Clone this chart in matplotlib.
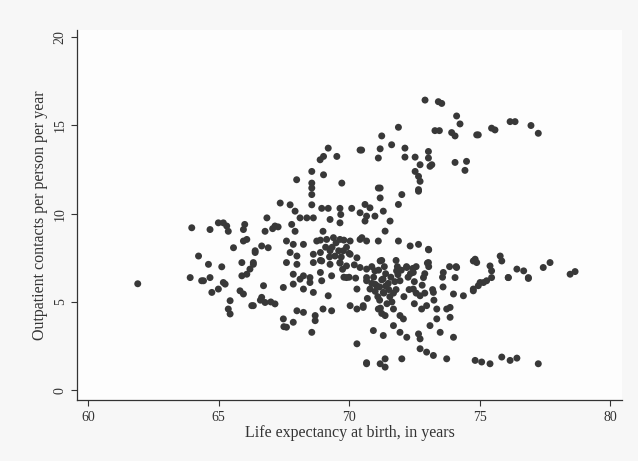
import matplotlib
matplotlib.use("Agg")
import matplotlib.pyplot as plt

# life expectancy (years) and outpatient contacts per person per year, by region
life_exp = [
    61.9,
    # lower left group
    63.97, 64.67, 64.99, 65.18, 65.31, 65.37, 66.0, 65.95, 65.95, 66.08, 65.57, 66.4,
    64.23, 64.61, 65.12, 65.89, 66.33, 63.91, 64.42, 64.67, 65.18, 65.89, 66.08, 66.2,
    64.35, 64.74, 64.99, 65.25, 65.44, 65.37, 65.44, 65.82, 65.95, 66.33,
    # 66-71, upper part
    69.2, 68.89, 69.02, 69.53, 70.42, 68.57, 69.02, 67.99, 68.57, 68.57, 69.72,
    68.57, 67.36, 67.74, 67.93, 68.57, 68.95, 69.2, 69.65, 69.68, 70.1, 70.42,
    68.12, 68.38, 68.63, 69.27, 69.65, 66.85, 66.78, 67.16, 67.8, 67.93, 69.0, 69.14,
    67.6, 67.86, 68.25, 68.76, 69.4, 69.65, 70.04, 70.42, 66.4, 66.65, 66.9, 67.74,
    68.0, 68.63, 68.9, 69.27, 69.46, 69.78, 70.04, 70.3, 66.33, 67.6, 68.0, 68.63,
    68.95, 69.27, 69.65, 69.9, 70.42, 67.86, 68.25, 68.5, 68.9, 69.33, 69.9, 70.67,
    # 66-71, lower part
    66.72, 67.48, 67.86, 68.12, 68.25, 68.5, 68.63, 68.95, 69.2, 70.3, 70.04, 70.3,
    70.54, 66.27, 66.65, 66.78, 67.16, 68.0, 68.25, 68.7, 68.7, 69.0, 69.33, 67.48,
    67.6, 67.86, 68.57, 70.3, 70.67,
    # 70.5-75, upper part
    72.91, 73.42, 73.55, 74.12, 74.25, 71.89, 73.29, 73.46, 73.93, 74.06, 74.89,
    71.25, 70.48, 71.19, 71.63, 72.14, 71.12, 72.14, 72.53, 72.72, 73.04, 73.04,
    73.1, 73.17, 74.06, 74.5, 74.44, 72.53, 72.66, 72.72, 71.19, 72.66,
    # 70.5-75, middle
    71.12, 71.19, 70.61, 70.8, 72.02, 72.66, 71.89, 71.31, 70.67, 70.99, 70.61,
    71.57, 71.38, 70.49, 70.67, 71.12, 71.89, 72.34, 72.66, 73.04, 71.19, 70.67,
    70.99, 71.82, 72.21, 72.46, 73.04, 73.61, 74.12, 74.76, 74.06, 72.85, 71.95,
    70.67,
    # 70.5-75, lower part
    70.8, 71.06, 71.31, 70.54, 71.12, 71.38, 71.7, 71.95, 71.7, 72.08, 71.95, 72.21,
    72.46, 72.72, 72.78, 72.97, 73.23, 73.36, 73.36, 73.1, 73.74, 73.87, 73.49, 74.0,
    72.66, 72.72, 70.93, 71.31, 72.72, 72.97, 73.23, 70.67, 71.19, 71.38, 71.38,
    72.02, 73.74, 74.0, 74.38, 74.76, 73.87,
    # dense core around 71-74
    70.87, 70.94, 70.87, 71.0, 71.17, 71.2, 71.25, 71.33, 71.17, 71.25, 71.13, 71.25,
    71.35, 71.4, 71.5, 71.52, 71.56, 71.64, 71.8, 71.85, 71.87, 71.75, 71.8, 72.2,
    72.26, 72.3, 72.44, 72.5, 72.57, 72.5, 72.57, 72.9, 72.8, 72.9, 73.05, 73.0,
    73.05, 73.2, 73.25, 73.58, 73.6, 73.85, 74.1,
    71.0, 71.1, 71.4, 71.6, 71.7, 72.0, 72.1, 71.3, 70.7, 71.45, 72.35,
    # dense core around 69-70
    69.1, 69.25, 69.35, 69.5, 69.6, 69.7, 69.8, 69.9, 70.0, 69.65, 69.75, 69.8, 70.0,
    70.2, 70.25, 68.9, 68.9, 66.6, 67.0, 67.5, 67.28, 67.07,
    # upper right
    74.95, 75.46, 75.59, 76.17, 76.36, 76.97, 77.25,
    # right, middle band
    74.83, 74.89, 75.79, 75.85, 75.4, 75.46, 76.43, 76.69, 76.1, 76.87, 77.44, 77.7,
    78.47, 78.66, 75.27, 75.02, 74.76, 74.95, 75.15, 75.46, 76.1, 76.87,
    # right, bottom row
    74.83, 75.08, 75.4, 75.85, 76.17, 76.43, 77.25,
]
outpatient = [
    6.03,
    9.2, 9.1, 9.48, 9.48, 9.3, 9.0, 9.39, 9.1, 8.45, 8.54, 8.07, 7.8,
    7.6, 7.13, 6.99, 7.23, 7.13, 6.38, 6.2, 6.38, 6.1, 6.48, 6.57, 6.86,
    6.2, 5.54, 5.73, 6.01, 5.07, 4.6, 4.32, 5.63, 5.45, 4.79,
    13.71, 13.05, 13.24, 13.24, 13.6, 12.39, 12.2, 11.92, 11.73, 11.45, 11.73,
    11.08, 10.6, 10.5, 10.14, 10.5, 10.3, 10.3, 10.3, 9.95, 10.3, 10.05,
    9.76, 9.76, 9.76, 9.67, 9.48, 9.76, 9.0, 9.3, 9.39, 9.0, 9.0, 8.54,
    8.45, 8.26, 8.26, 8.45, 8.64, 8.54, 8.45, 8.54, 7.9, 8.17, 8.07, 7.8,
    7.6, 7.7, 7.8, 7.9, 7.6, 7.9, 7.7, 7.5, 7.23, 7.23, 7.13, 7.23,
    7.32, 7.13, 7.23, 7.04, 6.95, 6.57, 6.48, 6.38, 6.67, 6.48, 6.38, 6.38,
    5.92, 5.82, 6.01, 6.29, 5.73, 6.1, 5.54, 6.2, 5.35, 5.73, 4.79, 4.6,
    4.79, 4.79, 5.26, 4.97, 4.89, 4.5, 4.41, 4.23, 3.94, 4.6, 4.5, 4.04,
    3.57, 3.85, 3.28, 2.63, 1.56,
    16.43, 16.34, 16.24, 15.53, 15.08, 14.89, 14.7, 14.7, 14.59, 14.4, 14.46,
    14.4, 13.6, 13.67, 13.9, 13.71, 13.15, 13.2, 13.2, 12.77, 13.52, 13.15,
    12.68, 12.77, 12.9, 12.96, 12.45, 12.39, 12.11, 11.83, 11.45, 11.36,
    11.45, 10.89, 10.52, 10.33, 11.08, 11.27, 10.52, 10.14, 9.86, 9.86, 9.58,
    9.58, 9.01, 8.64, 8.45, 8.45, 8.45, 8.17, 8.26, 7.98, 7.32, 6.86,
    6.76, 6.76, 6.95, 6.67, 7.23, 6.67, 6.95, 7.32, 6.38, 6.38, 6.2,
    6.2,
    5.73, 5.92, 5.54, 4.69, 4.6, 4.23, 4.6, 4.23, 3.66, 4.04, 3.28, 3.0,
    5.73, 5.35, 4.6, 4.79, 5.54, 4.6, 4.04, 3.66, 4.6, 4.13, 3.28, 3.0,
    3.19, 2.91, 3.38, 3.1, 2.35, 2.16, 1.97, 1.5, 1.5, 1.78, 1.31,
    1.78, 1.78, 5.45, 5.35, 5.63, 4.69,
    7.0, 6.4, 6.05, 5.6, 5.1, 4.65, 4.35, 5.5, 5.85, 6.25, 6.8, 7.35,
    7.0, 6.6, 6.05, 5.7, 5.3, 5.0, 7.35, 7.0, 6.55, 6.15, 5.7, 7.0,
    6.4, 5.7, 6.9, 6.15, 5.5, 4.9, 7.0, 6.6, 5.95, 5.5, 7.95, 7.2,
    7.0, 5.7, 5.1, 6.4, 5.85, 7.0, 7.0,
    6.0, 5.3, 5.9, 6.4, 5.5, 6.8, 5.3, 6.3, 5.2, 4.9, 6.6,
    8.1, 7.55, 8.1, 8.35, 7.9, 7.55, 8.5, 8.1, 7.75, 7.2, 6.85, 6.4, 6.4,
    7.1, 6.35, 7.35, 8.5, 5.1, 5.0, 3.6, 9.25, 9.15,
    14.46, 14.84, 14.74, 15.21, 15.21, 14.99, 14.55,
    7.42, 7.23, 7.6, 7.32, 7.04, 6.76, 6.86, 6.76, 6.38, 6.38, 6.95, 7.23,
    6.57, 6.72, 6.2, 6.1, 5.73, 5.92, 6.1, 6.38, 6.38, 6.33,
    1.69, 1.6, 1.5, 1.88, 1.69, 1.82, 1.5,
]

x_ticks = [60, 65, 70, 75, 80]
y_ticks = [0, 5, 10, 15, 20]

plt.rcParams['font.family'] = ['Liberation Serif', 'DejaVu Serif']

fig = plt.figure(figsize=(6.38, 4.61), dpi=100, facecolor='#f7f7f7')
ax = fig.add_axes([0.121, 0.132, 0.854, 0.803])
ax.set_facecolor('#fdfdfd')

ax.scatter(life_exp, outpatient, s=25, color='#383838', edgecolors='none')

ax.set_xlim(59.58, 80.46)
ax.set_ylim(-0.56, 20.4)
ax.set_xticks(x_ticks)
ax.set_yticks(y_ticks)
ax.set_yticklabels([str(v) for v in y_ticks], rotation=90, va='center')

for side in ['top', 'right']:
    ax.spines[side].set_visible(False)
for side in ['left', 'bottom']:
    ax.spines[side].set_color('#333333')
    ax.spines[side].set_linewidth(0.9)

ax.tick_params(direction='out', length=4, width=0.8, colors='#333333',
               labelsize=10, labelcolor='#333333')
ax.set_xlabel('Life expectancy at birth, in years', fontsize=11.5,
              color='#333333', labelpad=1)
ax.set_ylabel('Outpatient contacts per person per year', fontsize=11.5,
              color='#333333', labelpad=4)

fig.savefig('out.png', dpi=100, facecolor=fig.get_facecolor())
